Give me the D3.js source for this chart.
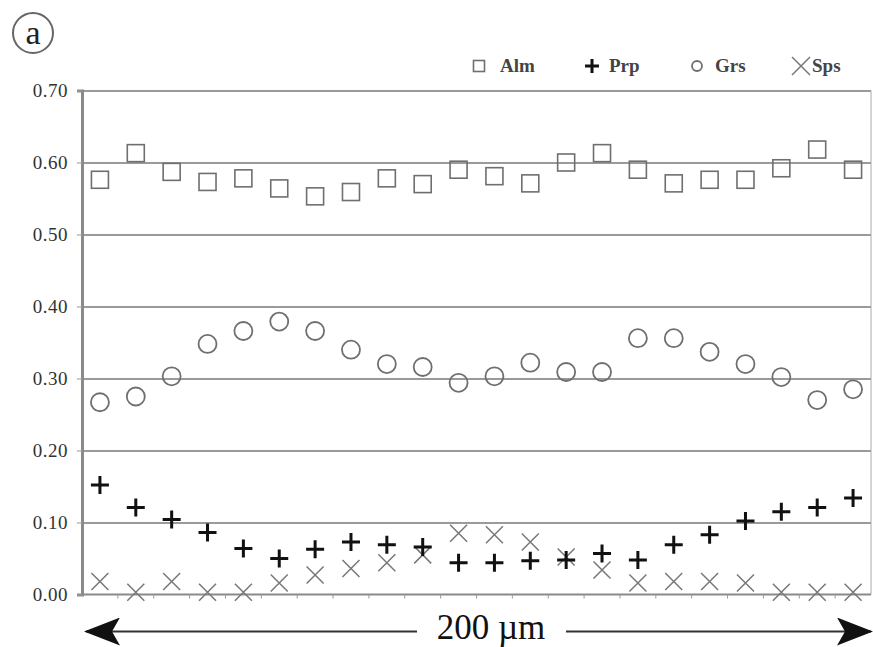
<!DOCTYPE html>
<meta charset="utf-8">
<title>Garnet profile</title>
<style>
    body {
        margin: 0;
        background: #fff;
    }

    .grid line {
        stroke: #9a9a9a;
        stroke-width: 2;
        shape-rendering: crispEdges;
    }
</style>

<body>
    <div id="chart"></div>
    <script src="https://d3js.org/d3.v7.min.js"></script>

    <script>
        // 22 analysis points along the 200 µm traverse
        var points = d3.range(1, 23);

        var alm = [0.576, 0.613, 0.587, 0.573, 0.578, 0.564, 0.553, 0.559, 0.578, 0.570, 0.590,
                   0.581, 0.571, 0.600, 0.613, 0.590, 0.571, 0.576, 0.576, 0.592, 0.618, 0.590];
        var prp = [0.152, 0.121, 0.104, 0.086, 0.064, 0.050, 0.063, 0.073, 0.069, 0.066, 0.044,
                   0.044, 0.047, 0.048, 0.057, 0.048, 0.069, 0.083, 0.102, 0.115, 0.121, 0.134];
        var grs = [0.267, 0.275, 0.303, 0.348, 0.366, 0.379, 0.366, 0.340, 0.320, 0.316, 0.294,
                   0.303, 0.322, 0.309, 0.309, 0.356, 0.356, 0.337, 0.320, 0.302, 0.270, 0.285];
        var sps = [0.018, 0.003, 0.018, 0.003, 0.003, 0.016, 0.027, 0.036, 0.044, 0.055, 0.085,
                   0.083, 0.073, 0.052, 0.034, 0.016, 0.018, 0.018, 0.016, 0.003, 0.003, 0.003];

        var yTicks = [0, 0.1, 0.2, 0.3, 0.4, 0.5, 0.6, 0.7];
        var seriesNames = ["Alm", "Prp", "Grs", "Sps"];

        var serif = "'Liberation Serif', 'DejaVu Serif', serif";

        var width = 873,
            height = 647,
            margin = { top: 90.5, right: 2, bottom: 52.5, left: 82 };

        var svg = d3.select("#chart")
            .append("svg")
            .attr("width", width)
            .attr("height", height)
            .attr("font-family", serif);

        var x = d3.scaleBand().domain(points).range([margin.left, width - margin.right]);
        var y = d3.scaleLinear().domain([0, 0.7]).range([height - margin.bottom, margin.top]);

        // horizontal gridlines
        svg.append("g")
            .attr("class", "grid")
            .selectAll("line")
            .data(yTicks.slice(1))
            .enter().append("line")
            .attr("x1", margin.left)
            .attr("x2", width - margin.right)
            .attr("y1", d => y(d))
            .attr("y2", d => y(d));

        // right frame
        svg.append("line")
            .attr("x1", width - margin.right).attr("x2", width - margin.right)
            .attr("y1", y(0.7)).attr("y2", y(0))
            .style("stroke", "#aaa").style("stroke-width", 1);

        // x axis with little ticks between points
        var xAxis = svg.append("g")
            .attr("transform", `translate(0,${y(0)})`);
        xAxis.append("line")
            .attr("x1", margin.left).attr("x2", width - margin.right)
            .style("stroke", "#8a8a8a").style("stroke-width", 2);
        xAxis.selectAll(".tk")
            .data(points.slice(1))
            .enter().append("line")
            .attr("class", "tk")
            .attr("x1", d => x(d)).attr("x2", d => x(d))
            .attr("y1", 0).attr("y2", 4)
            .style("stroke", "#999").style("stroke-width", 1);

        // y axis (line + ticks from d3, labels drawn below)
        var yAxis = d3.axisLeft(y).tickValues(yTicks).tickFormat("").tickSize(5);
        var gy = svg.append("g")
            .attr("transform", `translate(${margin.left},0)`)
            .call(yAxis);
        gy.select(".domain").style("stroke", "#8a8a8a").style("stroke-width", 3);
        gy.selectAll(".tick line").style("stroke", "#999");

        var fmt = d3.format(".2f");
        svg.append("g").selectAll("text")
            .data(yTicks)
            .enter().append("text")
            .attr("x", margin.left - 14)
            .attr("y", d => y(d))
            .attr("dy", "0.33em")
            .attr("text-anchor", "end")
            .attr("font-size", 19)
            .attr("letter-spacing", 0.5)
            .attr("fill", "#333")
            .text(d => fmt(d));

        var cx = i => x(points[i]) + x.bandwidth() / 2;

        // marker drawing helpers
        function square(g, s) {
            g.append("rect").attr("x", -s / 2).attr("y", -s / 2).attr("width", s).attr("height", s)
                .style("fill", "none").style("stroke", "#6f6f6f").style("stroke-width", 1.6);
        }
        function circle(g, r) {
            g.append("circle").attr("r", r)
                .style("fill", "none").style("stroke", "#6f6f6f").style("stroke-width", 1.8);
        }
        function plus(g, s) {
            g.append("path").attr("d", `M${-s / 2},0H${s / 2}M0,${-s / 2}V${s / 2}`)
                .style("stroke", "#111").style("stroke-width", 3);
        }
        function cross(g, s) {
            g.append("path").attr("d", `M${-s / 2},${-s / 2}L${s / 2},${s / 2}M${-s / 2},${s / 2}L${s / 2},${-s / 2}`)
                .style("stroke", "#777").style("stroke-width", 1.5);
        }

        function drawSeries(values, fn, size) {
            svg.append("g").selectAll("g")
                .data(values)
                .enter().append("g")
                .attr("transform", (d, i) => `translate(${cx(i)},${y(d)})`)
                .each(function() { fn(d3.select(this), size); });
        }

        drawSeries(sps, cross, 17);
        drawSeries(grs, circle, 9);
        drawSeries(alm, square, 17);
        drawSeries(prp, plus, 18);

        // legend
        var legend = svg.append("g");
        var legendX = [479, 592, 697, 801];
        var legendTextX = [500, 609, 715, 812];
        var legendFns = [[square, 11], [plus, 14], [circle, 5], [cross, 18]];
        seriesNames.forEach((name, i) => {
            var g = legend.append("g").attr("transform", `translate(${legendX[i]},66)`);
            legendFns[i][0](g, legendFns[i][1]);
            legend.append("text").attr("x", legendTextX[i]).attr("y", 72)
                .attr("font-size", 19).attr("font-weight", "bold")
                .attr("fill", "#444")
                .text(name);
        });

        // panel label
        svg.append("circle").attr("cx", 33).attr("cy", 33).attr("r", 20)
            .style("fill", "none").style("stroke", "#666").style("stroke-width", 2);
        svg.append("text").attr("x", 33).attr("y", 44).attr("text-anchor", "middle")
            .attr("font-size", 34).attr("fill", "#222").text("a");

        // scale arrow
        var arrowY = 631.5;
        var defs = svg.append("defs");
        defs.append("marker").attr("id", "head")
            .attr("viewBox", "0 0 36 28").attr("refX", 34).attr("refY", 14)
            .attr("markerWidth", 36).attr("markerHeight", 28).attr("markerUnits", "userSpaceOnUse")
            .attr("orient", "auto-start-reverse")
            .append("path").attr("d", "M0,0L36,14L0,28L8,14Z").style("fill", "#111");

        svg.append("line")
            .attr("x1", 86).attr("x2", 417).attr("y1", arrowY).attr("y2", arrowY)
            .style("stroke", "#333").style("stroke-width", 2)
            .attr("marker-start", "url(#head)");
        svg.append("line")
            .attr("x1", 566).attr("x2", 871).attr("y1", arrowY).attr("y2", arrowY)
            .style("stroke", "#333").style("stroke-width", 2)
            .attr("marker-end", "url(#head)");
        svg.append("text")
            .attr("x", 491).attr("y", 639)
            .attr("text-anchor", "middle")
            .attr("font-size", 35).attr("fill", "#111")
            .text("200 µm");
    </script>
</body>
